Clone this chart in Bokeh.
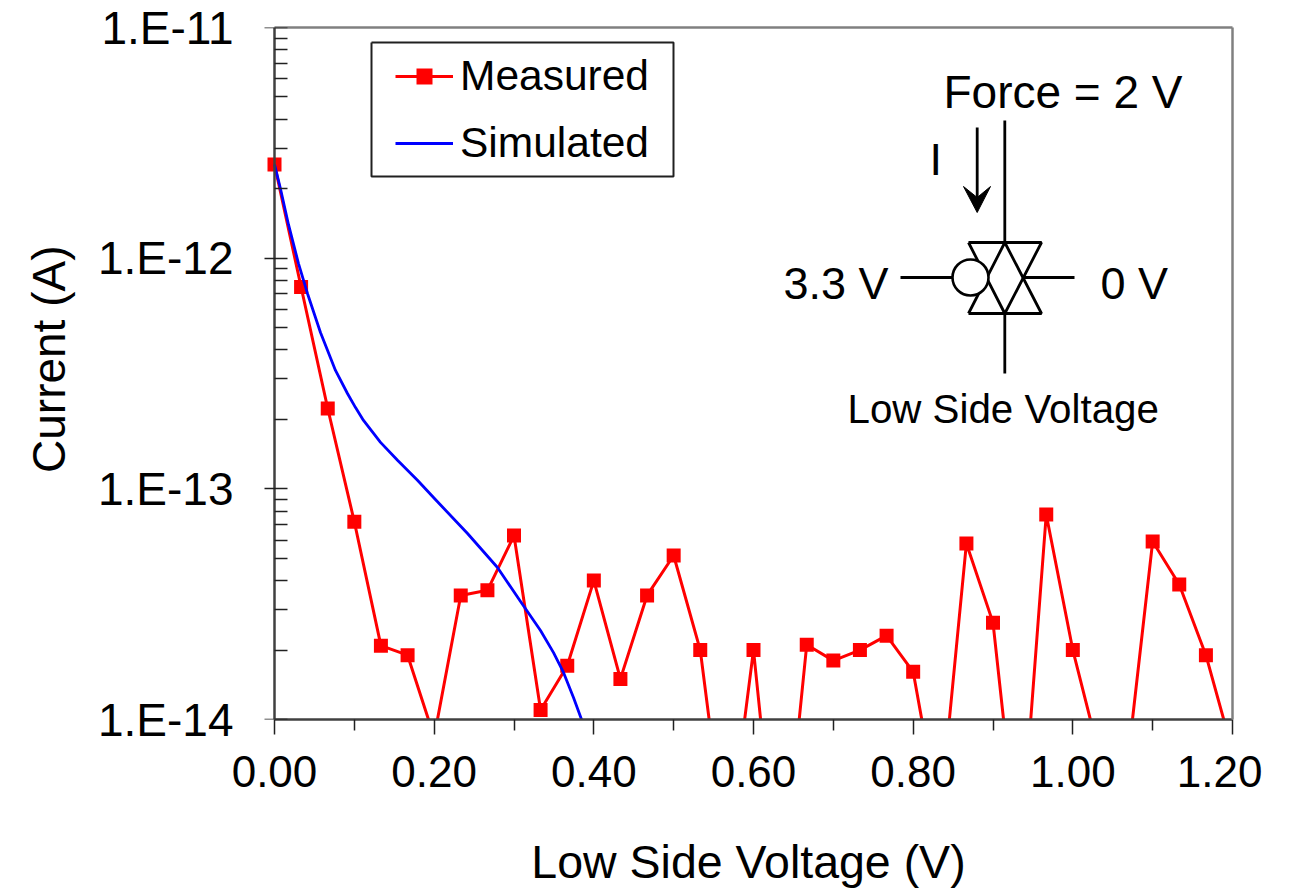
from bokeh.plotting import figure
from bokeh.embed import file_html
from bokeh.resources import INLINE
from bokeh.core.properties import value
from bokeh.models import FixedTicker, Legend, LegendItem, LinearAxis, LogAxis, Range1d, Title

# ---- data ----
meas_x = [0.0000, 0.0333, 0.0667, 0.1000, 0.1333, 0.1667, 0.2000, 0.2333, 0.2667, 0.3000,
          0.3333, 0.3667, 0.4000, 0.4333, 0.4667, 0.5000, 0.5333, 0.5667, 0.6000, 0.6333,
          0.6667, 0.7000, 0.7333, 0.7667, 0.8000, 0.8333, 0.8667, 0.9000, 0.9333, 0.9667,
          1.0000, 1.0333, 1.0667, 1.1000, 1.1333, 1.1667, 1.2000]
meas_y = [2.55e-12, 7.5e-13, 2.23e-13, 7.2e-14, 2.09e-14, 1.9e-14, 8.4e-15, 3.45e-14, 3.63e-14, 6.27e-14,
          1.1e-14, 1.71e-14, 4.0e-14, 1.5e-14, 3.45e-14, 5.14e-14, 2.0e-14, 2.5e-15, 2.0e-14, 1.5e-15,
          2.11e-14, 1.8e-14, 2.0e-14, 2.31e-14, 1.61e-14, 3.7e-15, 5.8e-14, 2.63e-14, 2.3e-15, 7.74e-14,
          2.0e-14, 7e-15, 5.7e-15, 5.91e-14, 3.85e-14, 1.9e-14, 7.3e-15]
sim_x = [0.0, 0.0075, 0.0175, 0.030, 0.0413, 0.0576, 0.0764, 0.0914, 0.1015, 0.1115, 0.1328,
         0.1541, 0.1791, 0.1992, 0.2418, 0.2793, 0.3082, 0.3332, 0.3495, 0.362, 0.3745, 0.3846]
sim_y = [2.55e-12, 2.0e-12, 1.40e-12, 9.5e-13, 7.03e-13, 4.76e-13, 3.26e-13, 2.59e-13, 2.25e-13, 1.98e-13, 1.59e-13,
         1.33e-13, 1.09e-13, 9.17e-14, 6.40e-14, 4.56e-14, 3.25e-14, 2.43e-14, 1.95e-14, 1.6e-14, 1.245e-14, 1.0e-14]
x_ticks = [0.0, 0.2, 0.4, 0.6, 0.8, 1.0, 1.2]
x_minor = [0.1, 0.3, 0.5, 0.7, 0.9, 1.1]
y_ticks = [1e-14, 1e-13, 1e-12, 1e-11]
y_labels = ["1.E-14", "1.E-13", "1.E-12", "1.E-11"]
y_minor = [m * d for d in (1e-14, 1e-13, 1e-12) for m in (2, 3, 4, 5, 6, 7, 8, 9)]

FONT = "Liberation Sans"
X0, X1, Y0, Y1 = 274.0, 1232.0, 719.0, 27.0  # pixel positions of the axis limits
LEFT_PAD = 10


def dx(px):
    return (px - X0) / (X1 - X0) * 1.2


def dy(py):
    return 10 ** (-14 + 3 * (Y0 - py) / (Y0 - Y1))


p = figure(width=1262, height=885, frame_width=968, frame_height=692,
           x_range=Range1d(dx(X0 - LEFT_PAD), 1.2), y_range=Range1d(1e-14, 1e-11),
           y_axis_type="log", output_backend="svg", toolbar_location=None,
           min_border_left=264, min_border_right=30, min_border_top=27, min_border_bottom=166,
           background_fill_color="white", border_fill_color="white")
p.grid.visible = False
p.outline_line_color = None

# x axis
xa = p.xaxis[0]
xa.bounds = (0, 1.2)
xa.ticker = FixedTicker(ticks=x_ticks, minor_ticks=x_minor)
xa.major_label_overrides = {t: f"{t:.2f}" for t in x_ticks}
xa.axis_label = "Low Side Voltage (V)"
xa.axis_label_text_font = FONT
xa.axis_label_text_font_style = "normal"
xa.axis_label_text_font_size = "46.5px"
xa.axis_label_text_color = "black"
xa.axis_label_standoff = 46
xa.major_label_text_font = FONT
xa.major_label_text_font_size = "44px"
xa.major_label_text_color = "black"
xa.major_label_standoff = 21
xa.axis_line_color = "#404040"
xa.axis_line_width = 2.5
xa.major_tick_line_color = "#202020"
xa.minor_tick_line_color = "#202020"
xa.major_tick_line_width = 1.5
xa.minor_tick_line_width = 1.5
xa.major_tick_in = 0
xa.major_tick_out = 15
xa.minor_tick_in = 0
xa.minor_tick_out = 11

# y axis line and ticks, sitting at x = 0
ya = p.yaxis[0]
ya.fixed_location = 0
ya.ticker = FixedTicker(ticks=y_ticks, minor_ticks=y_minor)
ya.major_label_text_color = None
ya.major_label_text_font_size = "10px"
ya.axis_line_color = "#404040"
ya.axis_line_width = 2.5
ya.major_tick_line_color = "#202020"
ya.minor_tick_line_color = "#202020"
ya.major_tick_line_width = 1.5
ya.minor_tick_line_width = 1.5
ya.major_tick_in = 13
ya.major_tick_out = 14
ya.minor_tick_in = 13
ya.minor_tick_out = 0

# y axis labels on the left side panel
yl = LogAxis(ticker=FixedTicker(ticks=y_ticks), axis_line_color=None,
             major_tick_line_color=None, minor_tick_line_color=None,
             major_tick_in=0, major_tick_out=0,
             major_label_overrides=dict(zip(y_ticks, y_labels)),
             major_label_text_font=FONT, major_label_text_font_size="46px", major_label_text_color="black",
             major_label_standoff=31)
p.add_layout(yl, "left")

# y axis title, as a side title so it can sit off-centre like the reference
p.add_layout(Title(text="Current (A)", align="right", offset=218, standoff=39,
                   text_font=FONT, text_font_size="46px", text_font_style="normal", text_color="black"), "left")

# top and right edges of the plot box
top = LinearAxis(ticker=FixedTicker(ticks=[]), bounds=(0, 1.2), axis_line_color="#808080", axis_line_width=2.5,
                 major_tick_line_color=None, minor_tick_line_color=None, major_label_text_color=None)
right = LogAxis(ticker=FixedTicker(ticks=[]), axis_line_color="#808080", axis_line_width=2.5,
                major_tick_line_color=None, minor_tick_line_color=None, major_label_text_color=None)
p.add_layout(top, "above")
p.add_layout(right, "right")

# legend box
p.line([dx(v) for v in (371, 673, 673, 371, 371)], [dy(v) for v in (42, 42, 176, 176, 42)],
       line_color="#202020", line_width=2)

# series
m_line = p.line(meas_x, meas_y, line_color="#ff0000", line_width=3)
m_pts = p.scatter(meas_x, meas_y, marker="square", size=14, fill_color="#ff0000", line_color="#ff0000", line_width=0)
s_line = p.line(sim_x, sim_y, line_color="#0000ff", line_width=2.8, line_join="round")

leg = Legend(items=[LegendItem(label="Measured", renderers=[m_line, m_pts]),
                    LegendItem(label="Simulated", renderers=[s_line])],
             location=(395 - (X0 - LEFT_PAD), Y0 - 167), padding=0, margin=0, spacing=19,
             glyph_width=58, glyph_height=40, label_height=40, label_standoff=7,
             label_text_font=FONT, label_text_font_size="42.5px", label_text_color="black",
             border_line_color=None, background_fill_alpha=0)
p.add_layout(leg, "center")


# schematic
def seg(pxs, pys):
    p.line([dx(v) for v in pxs], [dy(v) for v in pys], line_color="black", line_width=2.8)


seg([1004.3, 1004.3], [120, 242])
seg([1004.3, 1004.3], [313, 373])
seg([976.7, 976.7], [127, 200])
seg([968, 1041, 1004.3, 968], [242, 242, 313, 242])
seg([968, 1041, 1004.3, 968], [313, 313, 242, 313])
seg([900, 952], [277, 277])
seg([1023, 1074], [277, 277])
p.scatter([dx(970)], [dy(277)], marker="circle", size=36, fill_color="white", line_color="black", line_width=2.6)
p.patch([dx(v) for v in (963, 976.7, 990, 976.7)], [dy(v) for v in (186, 212, 186, 197)],
        fill_color="black", line_color="black", line_width=1)


def txt(px, py, s, size, align="left"):
    p.text([dx(px)], [dy(py)], text=[s], text_font=value(FONT), text_font_size=size,
           text_align=align, text_baseline="middle", text_color="black")


txt(943, 91, "Force = 2 V", "46px")
txt(929, 159, "I", "45px")
txt(783, 283, "3.3 V", "45px")
txt(1100, 283, "0 V", "45px")
txt(847, 409, "Low Side Voltage", "40.3px")

open("out.html", "w").write(file_html(p, INLINE))
